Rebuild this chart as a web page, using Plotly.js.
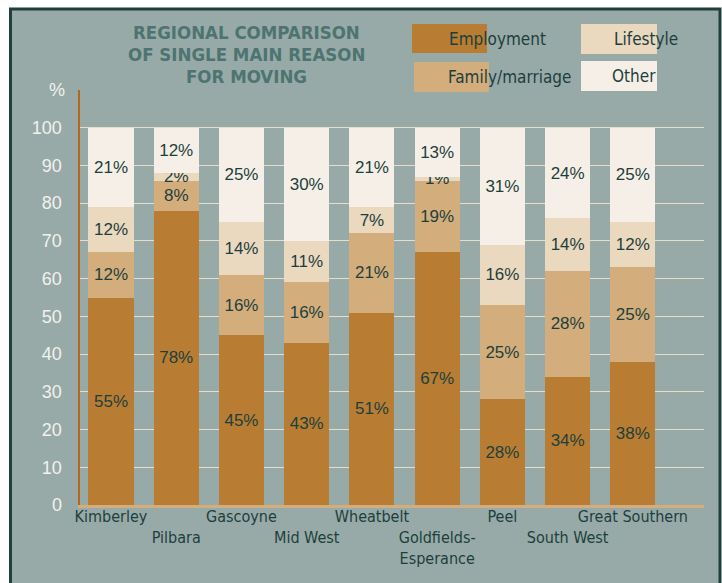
<!DOCTYPE html>
<html>
<head>
<meta charset="utf-8">
<script src="https://cdn.plot.ly/plotly-3.0.1.min.js"></script>
<style>html,body{margin:0;padding:0;background:#fff;}#chart{width:722px;height:583px;}</style>
</head>
<body>
<div id="chart"></div>
<script>
// ---- data ----
const regions = ["Kimberley", "Pilbara", "Gascoyne", "Mid West", "Wheatbelt", "Goldfields-<br>Esperance", "Peel", "South West", "Great Southern"];
const employment = [55, 78, 45, 43, 51, 67, 28, 34, 38];
const family     = [12, 8, 16, 16, 21, 19, 25, 28, 25];
const lifestyle  = [12, 2, 14, 11, 7, 1, 16, 14, 12];
const other      = [21, 12, 25, 30, 21, 13, 31, 24, 25];
const seriesNames = ["Employment", "Family/marriage", "Lifestyle", "Other"];
const yTicks = [0, 10, 20, 30, 40, 50, 60, 70, 80, 90, 100];
const titleLines = ["REGIONAL COMPARISON", "OF SINGLE MAIN REASON", "FOR MOVING"];

// ---- styling ----
const colors = ["#b87d33", "#d3ad7c", "#ead8bf", "#f6efe7"];
const darkText = "#1d3f3c";
const condensed = "DejaVu Sans Condensed, DejaVu Sans, sans-serif";
const W = 722, H = 583;
const L = 80, R = 18, T = 90, B = 78;
const pw = W - L - R, ph = H - T - B;
const px = x => (x - L) / pw;
const py = y => (H - B - y) / ph;

const idx = regions.map((_, i) => i);
const tickText = regions.map((r, i) => (i % 2 === 1 ? "<br>" : "") + r);

const seriesData = [employment, family, lifestyle, other];
const traces = seriesData.map((vals, k) => ({
  type: "bar",
  name: seriesNames[k],
  x: idx,
  y: vals,
  text: vals.map(v => v + "%"),
  textposition: "inside",
  insidetextanchor: "middle",
  textangle: 0,
  constraintext: "none",
  textfont: {family: "Liberation Sans, Arial, sans-serif", size: 17, color: darkText},
  marker: {color: colors[k], line: {width: 0}},
  hoverinfo: "skip",
  showlegend: false
}));

const shapes = [
  {type: "rect", xref: "paper", yref: "paper", layer: "below",
   x0: px(10.5), x1: px(720), y0: py(620), y1: py(9),
   fillcolor: "#97aaa8", line: {color: "#1e3f3c", width: 3}}
];
const legendBoxes = [
  {x0: 412, x1: 487, y0: 24, y1: 53, tx: 447, ty: 39},
  {x0: 414, x1: 489, y0: 62, y1: 92, tx: 446, ty: 77},
  {x0: 581, x1: 657, y0: 24, y1: 54, tx: 612, ty: 39},
  {x0: 581, x1: 657, y0: 61, y1: 91, tx: 610, ty: 76}
];
const annotations = [];
legendBoxes.forEach((b, k) => {
  shapes.push({type: "rect", xref: "paper", yref: "paper", layer: "above",
    x0: px(b.x0), x1: px(b.x1), y0: py(b.y1), y1: py(b.y0),
    fillcolor: colors[k], line: {width: 0}});
  annotations.push({xref: "paper", yref: "paper", x: px(b.tx), y: py(b.ty),
    xanchor: "left", yanchor: "middle", showarrow: false, text: seriesNames[k],
    font: {family: condensed, size: 17, color: darkText}});
});
titleLines.forEach((t, i) => {
  annotations.push({xref: "paper", yref: "paper", x: px(246), y: py(33 + i * 21.5),
    xanchor: "center", yanchor: "middle", showarrow: false, text: "<b>" + t + "</b>",
    font: {family: condensed, size: 18.5, color: "#4d7470"}});
});
annotations.push({xref: "paper", yref: "paper", x: px(57), y: py(90),
  xanchor: "center", yanchor: "middle", showarrow: false, text: "%",
  font: {family: "Liberation Sans, Arial, sans-serif", size: 18, color: "#f3f1ec"}});

const layout = {
  width: W, height: H,
  margin: {l: L, r: R, t: T, b: B, pad: 0},
  paper_bgcolor: "#ffffff",
  plot_bgcolor: "rgba(0,0,0,0)",
  barmode: "stack",
  bargap: 0.31,
  showlegend: false,
  xaxis: {
    range: [-0.475, 9.09],
    tickvals: idx, ticktext: tickText,
    showgrid: false, zeroline: false,
    showline: true, linecolor: "#d3ad7c", linewidth: 3,
    ticks: "", tickangle: 0, ticklabelstandoff: -5,
    tickfont: {family: condensed, size: 16, color: darkText},
    fixedrange: true
  },
  yaxis: {
    range: [0, 110],
    tickvals: yTicks,
    showgrid: true, gridcolor: "#e8ddcc", gridwidth: 1,
    zeroline: false,
    showline: true, linecolor: "#b9661a", linewidth: 2.5,
    ticks: "outside", ticklen: 12, tickcolor: "rgba(0,0,0,0)",
    tickfont: {family: "Liberation Sans, Arial, sans-serif", size: 18, color: "#f3f1ec"},
    fixedrange: true
  },
  shapes: shapes,
  annotations: annotations
};

Plotly.newPlot("chart", traces, layout, {displayModeBar: false, staticPlot: true});
</script>
</body>
</html>
